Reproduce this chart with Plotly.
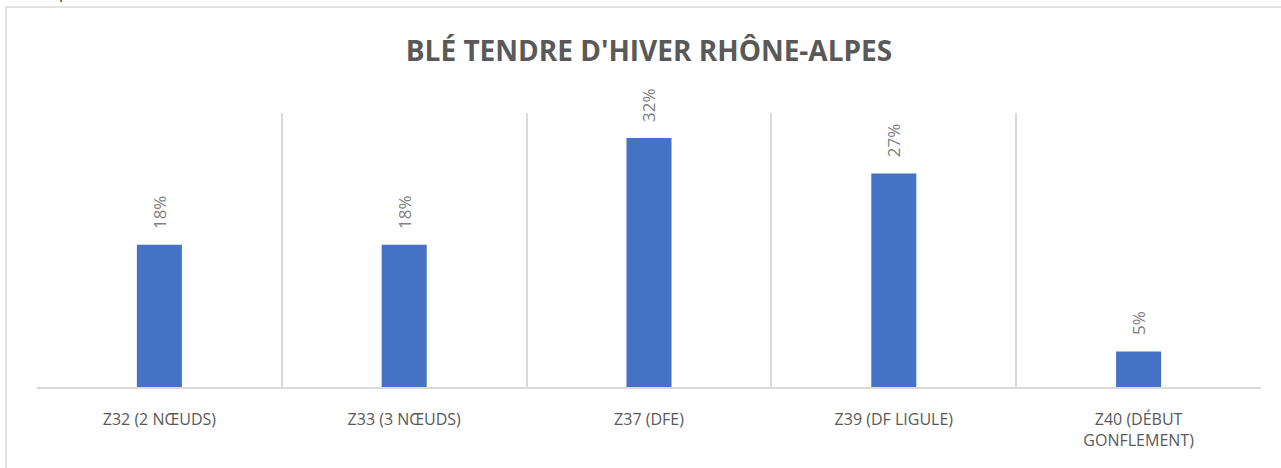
import plotly.graph_objects as go

categories = ["Z32 (2 NŒUDS)", "Z33 (3 NŒUDS)", "Z37 (DFE)", "Z39 (DF LIGULE)", "Z40 (DÉBUT<br>GONFLEMENT)"]
values = [18.18, 18.18, 31.82, 27.27, 4.55]
positions = list(range(len(categories)))
boundaries = [p - 0.5 for p in positions] + [positions[-1] + 0.5]

title_text = "BLÉ TENDRE D'HIVER RHÔNE-ALPES"
intro_text = "La répartition des stades est la suivante :"

W, H = 1281, 468
ml, mr, mt, mb = 37, 20, 113, 81
pw, ph = W - ml - mr, H - mt - mb

fig = go.Figure()
fig.add_trace(go.Bar(
    x=positions, y=values, width=0.184,
    marker=dict(color="#4472C4", line=dict(width=0)),
    hoverinfo="skip",
))

annotations = []
for x, v in zip(positions, values):
    annotations.append(dict(
        x=x, y=v, xref="x", yref="y", text=f"{v:.0f}%", showarrow=False,
        textangle=-90, xanchor="center", yanchor="bottom", yshift=14,
        font=dict(family="Open Sans", size=17, color="#808080"),
    ))
# partially visible sentence above the chart frame
annotations.append(dict(
    x=(20 - ml) / pw, y=1 + (mt + 8) / ph, xref="paper", yref="paper",
    text=intro_text, showarrow=False, xanchor="left", yanchor="middle",
    font=dict(family="Open Sans", size=16, color="#333333"),
))

fig.update_layout(
    width=W, height=H,
    margin=dict(l=ml, r=mr, t=mt, b=mb),
    paper_bgcolor="white", plot_bgcolor="white",
    showlegend=False,
    title=dict(text=title_text, x=0.5, xref="paper", xanchor="center",
               y=(H - 51) / H, yref="container", yanchor="middle",
               font=dict(family="Open Sans", size=28, color="#595959", weight="bold")),
    xaxis=dict(
        range=[-0.5, 4.5], tickmode="array", tickvals=positions, ticktext=categories,
        showgrid=False, zeroline=False, showline=True, linecolor="#d9d9d9", linewidth=1.5,
        ticks="", ticklabelstandoff=17,
        tickfont=dict(family="Open Sans", size=16, color="#595959"),
        minor=dict(tickmode="array", tickvals=boundaries, showgrid=True,
                   gridcolor="#d9d9d9", gridwidth=1.5, ticks=""),
        fixedrange=True,
    ),
    yaxis=dict(range=[0, 35], visible=False, fixedrange=True),
    annotations=annotations,
    shapes=[dict(type="rect", xref="paper", yref="paper",
                 x0=(6 - ml) / pw, x1=1 + (mr + 20) / pw,
                 y0=-(mb + 20) / ph, y1=1 + (mt - 7) / ph,
                 line=dict(color="#d9d9d9", width=1.5), fillcolor="rgba(0,0,0,0)",
                 layer="below")],
)

fig.write_html(
    "out.html",
    config={"displayModeBar": False},
    post_script="document.body.style.margin='0';document.body.style.overflow='hidden';",
)
